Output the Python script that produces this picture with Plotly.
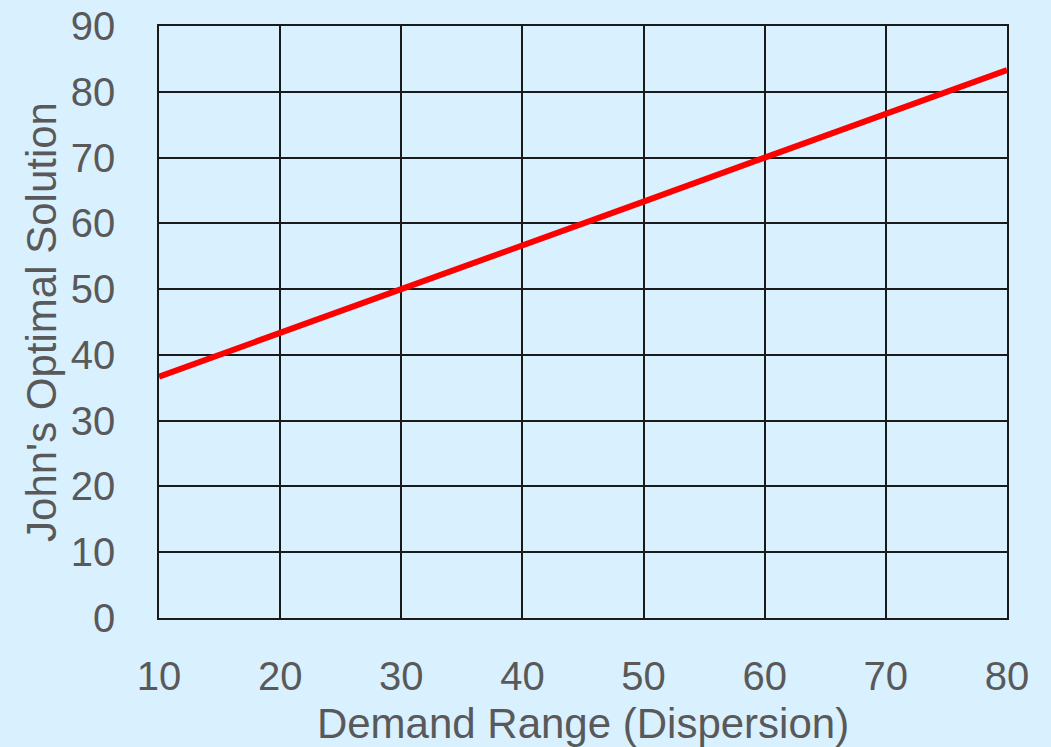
import plotly.graph_objects as go

demand_range = [10, 20, 30, 40, 50, 60, 70, 80]
optimal_solution = [36.7, 43.3, 50.0, 56.7, 63.3, 70.0, 76.7, 83.3]
x_ticks = [10, 20, 30, 40, 50, 60, 70, 80]
y_ticks = [0, 10, 20, 30, 40, 50, 60, 70, 80, 90]

BG = "#D9F0FF"
TXT = "#595959"
GRID = "#1a1a1a"

fig = go.Figure()
fig.add_trace(go.Scatter(x=demand_range, y=optimal_solution, mode="lines",
                         line=dict(color="#FF0000", width=6), showlegend=False))

fig.update_layout(
    width=1051, height=747,
    paper_bgcolor=BG, plot_bgcolor=BG,
    margin=dict(l=159, r=44, t=26, b=129, autoexpand=False),
    font=dict(family="Liberation Sans, Arial, sans-serif", color=TXT, size=40),
)
fig.update_xaxes(range=[10, 80], tickvals=x_ticks, showgrid=True, gridcolor=GRID, gridwidth=1.5,
                 showline=True, linecolor=GRID, linewidth=1.5, mirror=True, zeroline=False,
                 ticks="outside", ticklen=22, tickcolor="rgba(0,0,0,0)",
                 tickfont=dict(size=40, color=TXT), automargin=False,
                 title=dict(text="Demand Range (Dispersion)", font=dict(size=42, color=TXT), standoff=12))
fig.update_yaxes(range=[0, 90], tickvals=y_ticks, showgrid=True, gridcolor=GRID, gridwidth=1.5,
                 showline=True, linecolor=GRID, linewidth=1.5, mirror=True, zeroline=False,
                 ticks="outside", ticklen=34, tickcolor="rgba(0,0,0,0)",
                 tickfont=dict(size=40, color=TXT), automargin=False,
                 title=dict(text="John's Optimal Solution", font=dict(size=42, color=TXT), standoff=1))

fig.write_html("out.html", config={"displayModeBar": False},
               post_script="document.body.style.margin='0';document.body.style.background='%s';document.body.style.overflow='hidden';" % BG)
